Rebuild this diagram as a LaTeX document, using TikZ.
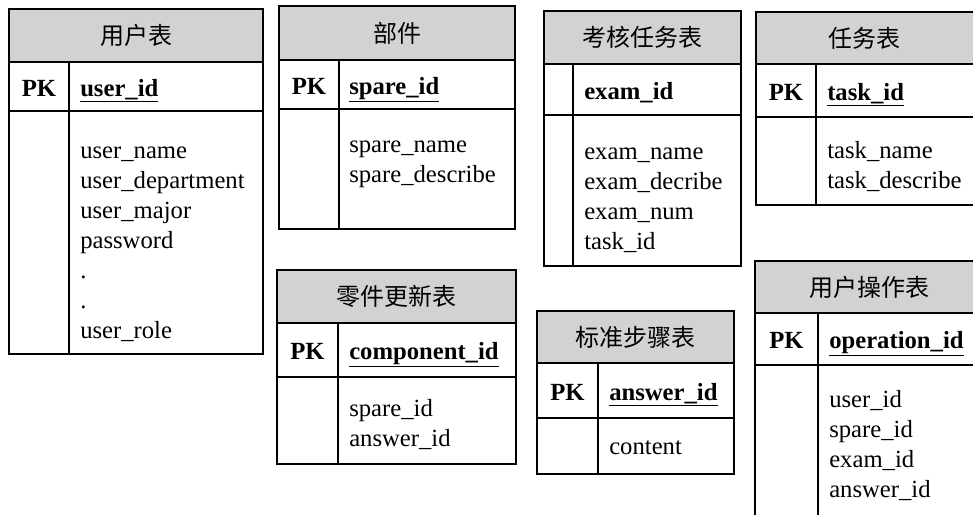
\documentclass[tikz,border=0pt]{standalone}
\usepackage{fontspec}
\setmainfont{Liberation Serif}
\newfontfamily\cjk{Noto Sans CJK SC}
\definecolor{hdrgray}{RGB}{210,210,210}
\tikzset{
  frame/.style={line width=1.3pt, draw=black},
  hdrfill/.style={fill=hdrgray},
  ttl/.style={font={\cjk\fontsize{18}{22}\selectfont}, inner sep=0pt, anchor=center},
  pktext/.style={font={\bfseries\fontsize{18.5}{22.5}\selectfont}, inner sep=0pt, anchor=base},
  keytext/.style={font={\bfseries\fontsize{18.5}{22.5}\selectfont}, inner sep=0pt, anchor=base west},
  bodytext/.style={font={\fontsize{18.5}{22.5}\selectfont}, inner sep=0pt, anchor=north west, align=left}
}
\begin{document}
\begin{tikzpicture}[x=0.75pt,y=-0.75pt]
\clip (0,0) rectangle (973,514);
\fill[white] (0,0) rectangle (973,514);

% ---- 用户表
\fill[hdrfill] (9,9) rectangle (263,62);
\draw[frame] (9,9) rectangle (263,354);
\draw[frame] (9,62) -- (263,62) (9,111) -- (263,111) (69,62) -- (69,354);
\node[ttl] (t1title) at (136,35.5) {用户表};
\node[pktext] (t1pk) at (39,96) {PK};
\node[keytext] (t1key) at (80,96) {\underline{user\_id}};
\node[bodytext] (t1body) at (80,137) {\strut user\_name\\\strut user\_department\\\strut user\_major\\\strut password\\\strut .\\\strut .\\\strut user\_role};

% ---- 部件
\fill[hdrfill] (279,6) rectangle (515,60);
\draw[frame] (279,6) rectangle (515,229);
\draw[frame] (279,60) -- (515,60) (279,109) -- (515,109) (339,60) -- (339,229);
\node[ttl] (t2title) at (397,33) {部件};
\node[pktext] (t2pk) at (309,94) {PK};
\node[keytext] (t2key) at (349,94) {\underline{spare\_id}};
\node[bodytext] (t2body) at (349,131) {\strut spare\_name\\\strut spare\_describe};

% ---- 考核任务表
\fill[hdrfill] (544,11) rectangle (741,64);
\draw[frame] (544,11) rectangle (741,266);
\draw[frame] (544,64) -- (741,64) (544,115) -- (741,115) (573,64) -- (573,266);
\node[ttl] (t3title) at (642.5,37.5) {考核任务表};
\node[keytext] (t3key) at (584,99) {exam\_id};
\node[bodytext] (t3body) at (584,138) {\strut exam\_name\\\strut exam\_decribe\\\strut exam\_num\\\strut task\_id};

% ---- 任务表
\fill[hdrfill] (756,12) rectangle (975,64);
\draw[frame] (756,12) rectangle (975,205);
\draw[frame] (756,64) -- (975,64) (756,117) -- (975,117) (816,64) -- (816,205);
\node[ttl] (t4title) at (864,38) {任务表};
\node[pktext] (t4pk) at (786,100) {PK};
\node[keytext] (t4key) at (827,100) {\underline{task\_id}};
\node[bodytext] (t4body) at (827,137) {\strut task\_name\\\strut task\_describe};

% ---- 零件更新表
\fill[hdrfill] (277,270) rectangle (516,323);
\draw[frame] (277,270) rectangle (516,464);
\draw[frame] (277,323) -- (516,323) (277,377) -- (516,377) (338,323) -- (338,464);
\node[ttl] (t5title) at (396.5,296.5) {零件更新表};
\node[pktext] (t5pk) at (307.5,359.5) {PK};
\node[keytext] (t5key) at (349,359.5) {\underline{component\_id}};
\node[bodytext] (t5body) at (349,395) {\strut spare\_id\\\strut answer\_id};

% ---- 标准步骤表
\fill[hdrfill] (537,311) rectangle (734,363);
\draw[frame] (537,311) rectangle (734,474);
\draw[frame] (537,363) -- (734,363) (537,418) -- (734,418) (598,363) -- (598,474);
\node[ttl] (t6title) at (635.5,337) {标准步骤表};
\node[pktext] (t6pk) at (567.5,400) {PK};
\node[keytext] (t6key) at (609,400) {\underline{answer\_id}};
\node[bodytext] (t6body) at (609,433) {\strut content};

% ---- 用户操作表
\fill[hdrfill] (755,261) rectangle (983,313);
\draw[frame] (755,261) rectangle (983,530);
\draw[frame] (755,313) -- (983,313) (755,365) -- (983,365) (818,313) -- (818,530);
\node[ttl] (t7title) at (869,287) {用户操作表};
\node[pktext] (t7pk) at (786.5,348.5) {PK};
\node[keytext] (t7key) at (829,348.5) {\underline{operation\_id}};
\node[bodytext] (t7body) at (829,386) {\strut user\_id\\\strut spare\_id\\\strut exam\_id\\\strut answer\_id};
\end{tikzpicture}
\end{document}
